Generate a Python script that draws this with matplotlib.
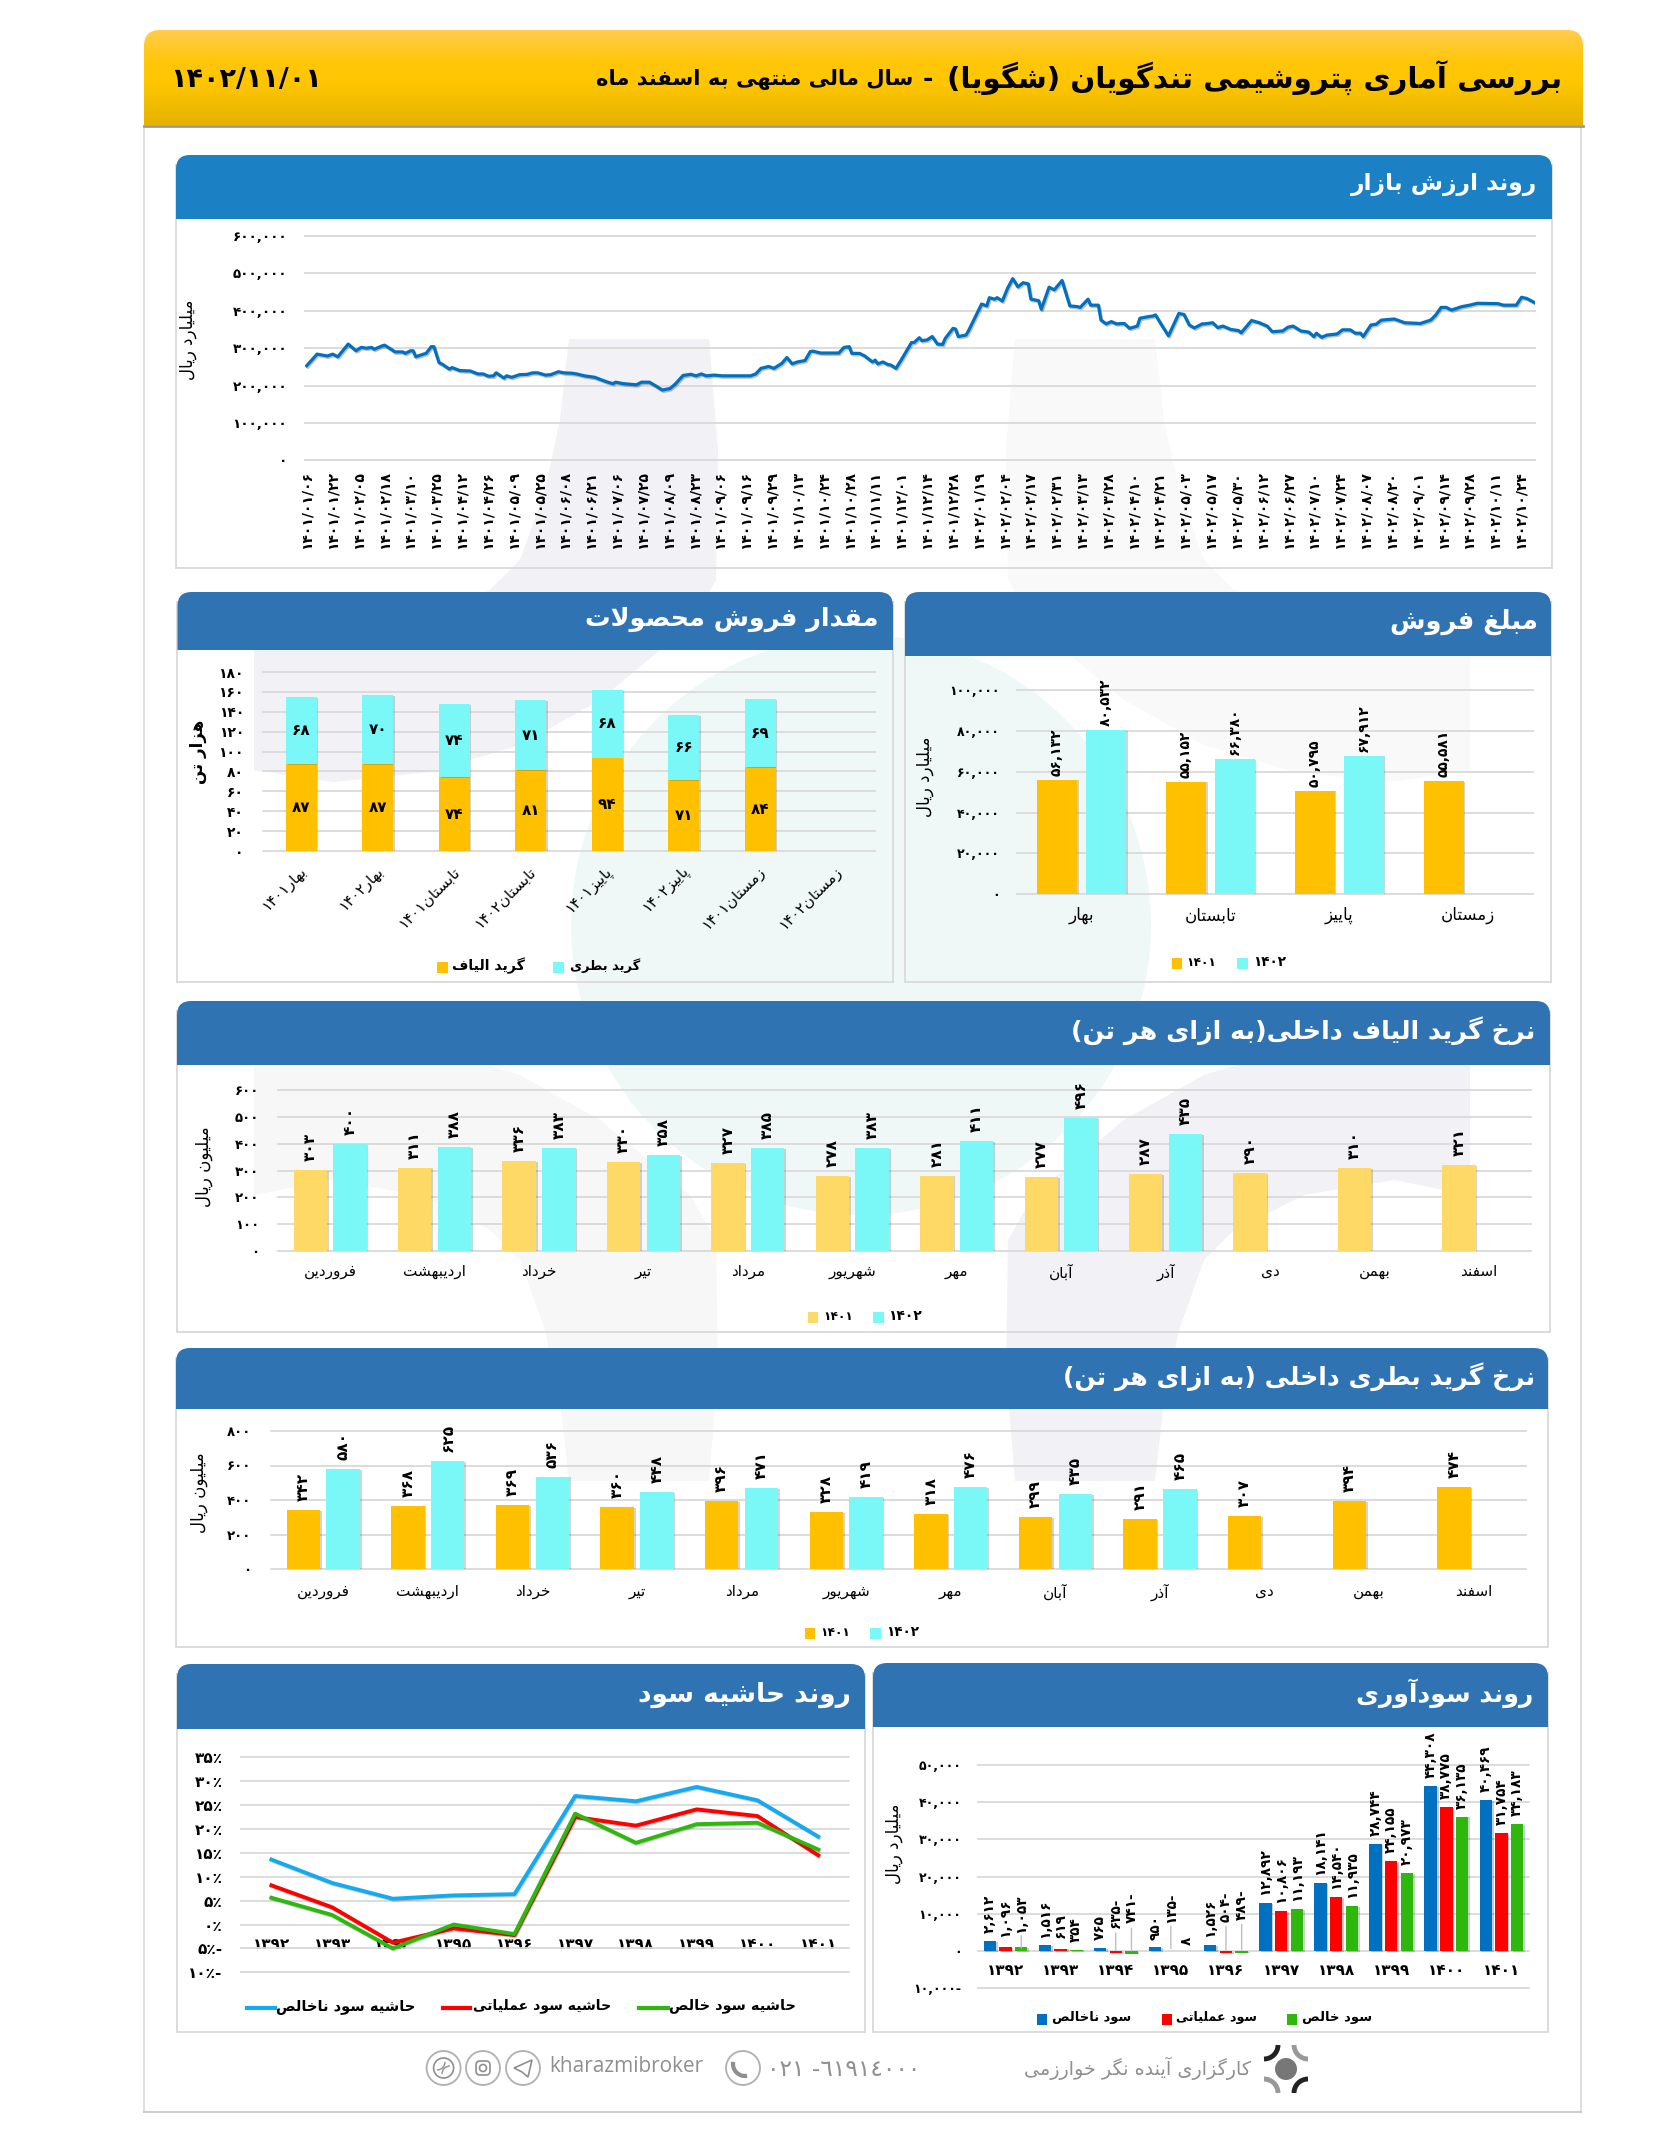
"""Statistical review sheet for Tondgooyan Petrochemical, redrawn with matplotlib."""

import re

import matplotlib

matplotlib.use("Agg")
import matplotlib.patheffects as pe
import matplotlib.pyplot as plt
import numpy as np
from matplotlib.lines import Line2D
from matplotlib.patches import Arc, Circle, FancyBboxPatch, PathPatch, Polygon, Rectangle
from matplotlib.path import Path

W, H = 1677, 2133
PT = 0.72  # points per pixel at dpi=100

plt.rcParams["font.family"] = ["DejaVu Sans"]

# ---------------------------------------------------------------- data
market_day = [
    0, 4, 8, 10, 12, 16, 19, 21, 23, 25, 26, 29, 30, 33, 34, 37, 38, 40, 41, 42, 45, 46, 48, 49, 51, 52, 55, 56,
    59, 63, 66, 68, 70, 72, 73, 76, 77, 79, 82, 85, 87, 89, 92, 94, 97, 99, 102, 104, 107, 111, 114, 116, 118,
    119, 122, 127, 129, 132, 134, 137, 140, 142, 145, 148, 150, 152, 154, 157, 160, 171, 173, 175, 178, 180,
    183, 185, 187, 189, 192, 194, 195, 198, 205, 207, 209, 210, 213, 215, 218, 219, 220, 222, 224, 225, 227,
    229, 233, 234, 236, 237, 239, 241, 243,
    245, 246, 249, 250, 251, 254, 255, 260, 262, 263, 265, 266, 268, 270, 272, 274, 276, 278, 279, 282, 283,
    286, 288, 291, 294, 297, 298, 301, 302, 305, 306, 308, 310, 312, 315, 317, 320, 321, 324, 326, 327, 329,
    332, 336, 338, 340, 342, 345, 346, 349, 351, 353, 356, 359, 360, 364, 367, 370, 372, 376, 378, 380, 383,
    386, 388, 389, 391, 393, 397, 399, 402, 404, 406, 407, 410, 412, 414, 419, 423, 429, 433, 435, 437, 439,
    441, 445, 448, 451, 459, 461, 466, 468, 470, 473,
]
market_value = [
    253, 284, 279, 284, 277, 311, 293, 302, 300, 302, 297, 306, 308, 295, 290, 290, 286, 293, 293, 277, 284,
    286, 304, 304, 261, 258, 244, 248, 240, 239, 231, 231, 225, 226, 234, 220, 226, 222, 229, 230, 234, 234,
    228, 229, 237, 234, 233, 231, 226, 222, 214, 209, 205, 209, 205, 202, 209, 209, 201, 188, 192, 204, 227,
    230, 226, 231, 226, 228, 226, 226, 231, 246, 251, 246, 259, 275, 258, 263, 267, 291, 292, 287, 287, 302,
    304, 286, 286, 279, 263, 268, 258, 263, 256, 255, 246, 268, 315, 315, 328, 320, 322, 331, 311,
    310, 326, 353, 351, 331, 335, 347, 418, 413, 435, 431, 435, 426, 460, 486, 464, 475, 472, 431, 427, 404,
    463, 456, 481, 413, 411, 409, 431, 415, 415, 375, 365, 371, 365, 366, 353, 359, 380, 384, 386, 389, 366,
    333, 393, 390, 362, 354, 365, 365, 368, 355, 359, 350, 347, 341, 374, 368, 359, 344, 346, 356, 359, 346,
    343, 331, 340, 329, 335, 338, 349, 349, 340, 340, 331, 362, 364, 375, 378, 368, 366, 375, 389, 409, 409,
    402, 411, 415, 420, 419, 415, 415, 436, 433, 422,
]
market_dates = [
    "1401/01/06", "1401/01/22", "1401/02/05", "1401/02/18", "1401/03/10", "1401/03/25", "1401/04/12",
    "1401/04/26", "1401/05/09", "1401/05/25", "1401/06/08", "1401/06/21", "1401/07/06", "1401/07/25",
    "1401/08/09", "1401/08/23", "1401/09/06", "1401/09/16", "1401/09/29", "1401/10/13", "1401/10/24",
    "1401/10/28", "1401/11/11", "1401/12/01", "1401/12/14", "1401/12/28", "1402/01/19", "1402/02/04",
    "1402/02/17", "1402/02/31", "1402/03/13", "1402/03/28", "1402/04/10", "1402/04/21", "1402/05/03",
    "1402/05/17", "1402/05/30", "1402/06/12", "1402/06/27", "1402/07/10", "1402/07/24", "1402/08/07",
    "1402/08/20", "1402/09/01", "1402/09/14", "1402/09/28", "1402/10/11", "1402/10/24",
]

seasons = ["بهار", "تابستان", "پاییز", "زمستان"]
sales_1401 = [56132, 55152, 50795, 55581]
sales_1402 = [80532, 66380, 67912, None]

volume_cats = ["بهار1401", "بهار1402", "تابستان1401", "تابستان1402", "پاییز1401", "پاییز1402", "زمستان1401", "زمستان1402"]
volume_fiber = [87, 87, 74, 81, 94, 71, 84, 0]
volume_bottle = [68, 70, 74, 71, 68, 66, 69, 0]

months = ["فروردین", "اردیبهشت", "خرداد", "تیر", "مرداد", "شهریور", "مهر", "آبان", "آذر", "دی", "بهمن", "اسفند"]
fiber_1401 = [303, 311, 336, 330, 327, 278, 281, 277, 287, 290, 310, 321]
fiber_1402 = [400, 388, 383, 358, 385, 383, 411, 496, 435, None, None, None]
bottle_1401 = [342, 368, 369, 360, 396, 328, 318, 299, 291, 307, 394, 474]
bottle_1402 = [580, 625, 536, 448, 471, 419, 476, 435, 465, None, None, None]

years = ["1392", "1393", "1394", "1395", "1396", "1397", "1398", "1399", "1400", "1401"]
margin_gross = [13.6, 8.7, 5.4, 6.1, 6.35, 26.9, 25.8, 28.8, 26.0, 18.4]
margin_operating = [8.2, 3.6, -3.8, -0.8, -2.2, 22.5, 20.7, 24.1, 22.7, 14.5]
margin_net = [5.6, 2.0, -5.0, 0.0, -2.0, 23.2, 17.1, 21.0, 21.3, 15.7]
profit_gross = [2612, 1516, 765, 950, 1526, 12892, 18141, 28744, 44308, 40469]
profit_operating = [1096, 619, -635, -135, -504, 10806, 14540, 24155, 38775, 31754]
profit_net = [1053, 354, -741, 8, -489, 11193, 11935, 20973, 36135, 34183]

ORANGE = "#ffc000"
PALE_ORANGE = "#ffd966"
CYAN = "#7af8f8"
GRID = "#d9d9d9"
HEADER = "#3073b3"

# raised labels of the small profit bars: (year index, series index) -> lift in px above zero
PROFIT_LIFT = {
    (0, 0): 18, (0, 1): 14, (0, 2): 18, (1, 0): 13, (1, 1): 13, (1, 2): 9, (2, 0): 11, (2, 1): 23, (2, 2): 28,
    (3, 0): 11, (3, 1): 28, (3, 2): 6, (4, 0): 14, (4, 1): 29, (4, 2): 31,
}
PROFIT_LEADER = {(0, 2), (2, 1), (2, 2), (3, 1), (4, 1), (4, 2)}

# ---------------------------------------------------------------- persian text helpers
RIGHT_JOIN = {"ا": 0xFE8D, "آ": 0xFE81, "د": 0xFEA9, "ذ": 0xFEAB, "ر": 0xFEAD, "ز": 0xFEAF, "ژ": 0xFB8A, "و": 0xFEED}
DUAL_JOIN = {
    "ب": 0xFE8F, "پ": 0xFB56, "ت": 0xFE95, "ث": 0xFE99, "ج": 0xFE9D, "چ": 0xFB7A, "ح": 0xFEA1, "خ": 0xFEA5,
    "س": 0xFEB1, "ش": 0xFEB5, "ص": 0xFEB9, "ض": 0xFEBD, "ط": 0xFEC1, "ظ": 0xFEC5, "ع": 0xFEC9, "غ": 0xFECD,
    "ف": 0xFED1, "ق": 0xFED5, "ک": 0xFB8E, "گ": 0xFB92, "ل": 0xFEDD, "م": 0xFEE1, "ن": 0xFEE5, "ه": 0xFEE9,
    "ی": 0xFBFC,
}
DIGITS = str.maketrans("0123456789", "۰۱۲۳۴۵۶۷۸۹")


def fa(text: str) -> str:
    """Shape Persian text into presentation forms and lay it out in visual order."""
    text = text.translate(DIGITS)
    shaped = []
    i = 0
    while i < len(text):
        char = text[i]
        prev = text[i - 1] if i else ""
        nxt = text[i + 1] if i + 1 < len(text) else ""
        if char == "ل" and nxt in ("ا", "آ"):
            base = 0xFEFB if nxt == "ا" else 0xFEF5
            shaped.append(chr(base + (prev in DUAL_JOIN)))
            i += 2
            continue
        if char in RIGHT_JOIN:
            shaped.append(chr(RIGHT_JOIN[char] + (prev in DUAL_JOIN)))
        elif char in DUAL_JOIN:
            joins_next = nxt in DUAL_JOIN or nxt in RIGHT_JOIN
            joins_prev = prev in DUAL_JOIN
            offset = 3 if joins_prev and joins_next else 2 if joins_next else 1 if joins_prev else 0
            shaped.append(chr(DUAL_JOIN[char] + offset))
        else:
            shaped.append({"(": ")", ")": "("}.get(char, char))
        i += 1
    visual = "".join(reversed(shaped))
    return re.sub(r"[۰-۹,/]+", lambda m: m.group()[::-1], visual)


def fa_num(value: float, suffix: str = "") -> str:
    body = f"{abs(value):,}".translate(DIGITS) + suffix
    return body + "-" if value < 0 else body


def top_round(x0, y0, x1, y1, r):
    codes = [Path.MOVETO, Path.LINETO, Path.CURVE3, Path.CURVE3, Path.LINETO, Path.CURVE3, Path.CURVE3, Path.LINETO, Path.CLOSEPOLY]
    verts = [(x0, y1), (x0, y0 + r), (x0, y0), (x0 + r, y0), (x1 - r, y0), (x1, y0), (x1, y0 + r), (x1, y1), (x0, y1)]
    return Path(verts, codes)


fig = plt.figure(figsize=(W / 100, H / 100), dpi=100, facecolor="white")
renderer = fig.canvas.get_renderer()

bg = fig.add_axes([0, 0, 1, 1], zorder=0)
bg.set_xlim(0, W)
bg.set_ylim(H, 0)
bg.axis("off")


def label(x, y, text, width=None, size=10, color="black", weight="bold", ha="right", **kwargs):
    """Place text on the page in px; width rescales the font to the measured width."""
    item = bg.text(x, y, text, fontsize=size, color=color, fontweight=weight, ha=ha, va="center", zorder=6, **kwargs)
    if width:
        item.set_fontsize(size * width / item.get_window_extent(renderer).width)
    return item


def axis_title(x, y, text, size=12):
    label(x, y, fa(text), size=size, rotation=90, ha="center", weight="normal")


def panel(x0, y0, x1, y_head, y1, title, title_x, title_width, color=HEADER):
    bg.add_patch(Rectangle((x0, y0 + 10), x1 - x0, y1 - y0 - 10, fill=False, ec=GRID, lw=1.3, zorder=2))
    bg.add_patch(PathPatch(top_round(x0, y0, x1, y_head, 14), fc=color, ec="none", zorder=3))
    label(title_x, (y0 + y_head) / 2 - 2, fa(title), width=title_width, size=20, color="white")


def chart(x0, y0, x1, y1, ylim, ticks, tick_labels, tick_right, tick_size=9.5):
    ax = fig.add_axes([x0 / W, 1 - y1 / H, (x1 - x0) / W, (y1 - y0) / H], zorder=2)
    ax.patch.set_alpha(0)
    ax.set_ylim(*ylim)
    for spine in ax.spines.values():
        spine.set_visible(False)
    ax.set_yticks(ticks, tick_labels, fontweight="bold", fontsize=tick_size)
    ax.tick_params(axis="both", length=0)
    ax.tick_params(axis="y", pad=(x0 - tick_right) * PT)
    ax.yaxis.grid(True, color=GRID, lw=1.3)
    ax.set_axisbelow(True)
    for line in ax.get_ygridlines():
        line.set_clip_on(False)
    return ax


def swatch_legend(entries, y, size=9):
    for sq0, sq1, color, text, text_x0, text_x1 in entries:
        bg.add_patch(Rectangle((sq0, y - 5), sq1 - sq0, 11, fc=color, ec="none", zorder=6))
        label(text_x1, y - 1, text, width=text_x1 - text_x0, size=size)


def bar_shadow():
    return [pe.SimplePatchShadow(offset=(1.2, -0.6), alpha=0.22), pe.Normal()]


def paired_bars(ax, cats, first, second, first_color, pad, size, width=0.32, offset=0.19):
    pos = np.arange(len(cats))
    ax.set_xlim(-0.5, len(cats) - 0.5)
    for values, color, shift in ((first, first_color, -offset), (second, CYAN, offset)):
        for x, value in zip(pos, values):
            if value is None:
                continue
            ax.bar(x + shift, value, width, color=color, path_effects=bar_shadow(), zorder=2)
            ax.annotate(fa_num(value), (x + shift, value), xytext=(0, pad * PT), textcoords="offset points",
                        rotation=90, ha="center", va="bottom", fontsize=size, fontweight="bold", zorder=4)


# ---------------------------------------------------------------- page background and logo watermark
ring = np.array([
    (569, 339), (709, 339), (718, 450), (716, 580), (690, 625), (660, 650), (600, 700), (520, 745), (430, 772),
    (333, 782), (254, 770), (254, 625), (330, 640), (420, 625), (490, 590), (520, 560), (545, 490), (560, 420),
])
bg.add_patch(Circle((861, 925), 290, fc="#f0f8f7", ec="none", zorder=0))
bg.add_patch(Polygon(ring, fc="#f1f1f6", ec="none", zorder=0))
bg.add_patch(Polygon(np.c_[1724 - ring[:, 0], ring[:, 1]], fc="#f9f9f9", ec="none", zorder=0))
bg.add_patch(Polygon(np.c_[ring[:, 0], 1820 - ring[:, 1]], fc="#f7f7f8", ec="none", zorder=0))
bg.add_patch(Polygon(np.c_[1724 - ring[:, 0], 1820 - ring[:, 1]], fc="#f1f1f6", ec="none", zorder=0))

bg.plot([144, 144], [126, 2112], color="#dcdcdc", lw=1.3, zorder=1)
bg.plot([1581, 1581], [126, 2112], color="#dcdcdc", lw=1.3, zorder=1)
bg.plot([144, 1581], [2112, 2112], color="#c8c8c8", lw=1.3, zorder=1)

# title band
band = PathPatch(top_round(144, 30, 1583, 125, 16), fc="none", ec="none")
bg.add_patch(band)
bg.plot([144, 1583], [126, 126], color="#9a9a9a", lw=2, zorder=3)
stops = np.array([[1.0, 0.80, 0.30], [1.0, 0.78, 0.05], [1.0, 0.78, 0.0], [0.90, 0.70, 0.0]])
ramp = np.stack([np.interp(np.linspace(0, 1, 96), [0, 0.3, 0.55, 1], stops[:, k]) for k in range(3)], axis=1)
image = bg.imshow(ramp[:, None, :], extent=(144, 1583, 125, 30), aspect="auto", zorder=3)
image.set_clip_path(band)
bg.set_xlim(0, W)
bg.set_ylim(H, 0)
label(1562, 78, fa("بررسی آماری پتروشیمی تندگویان (شگویا)"), width=614, size=22)
label(913, 80, fa("سال مالی منتهی به اسفند ماه"), width=319, size=15)
label(933, 79, "-", size=18)
label(170, 80, fa("1402/11/01"), width=151, size=20, ha="left")

# ---------------------------------------------------------------- market value
panel(176, 155, 1552, 219, 568, "روند ارزش بازار", 1537, 186, color="#1b80c4")
ax = chart(305, 236, 1535, 460.3, (0, 600), np.arange(0, 601, 100),
           [fa_num(v * 1000) for v in range(0, 601, 100)], 287, tick_size=9.7)
ax.set_xlim(-0.65, 473.2)
ax.plot(market_day, market_value, color="#0070c0", lw=2.3, solid_joinstyle="round",
        path_effects=[pe.SimpleLineShadow(offset=(0.8, -1), alpha=0.25), pe.Normal()])
ax.set_xticks(np.arange(len(market_dates)) * 9.95, [fa(d) for d in market_dates], rotation=90, fontsize=10, fontweight="bold")
ax.tick_params(axis="x", pad=11 * PT)
axis_title(188, 340, "میلیارد ریال")

# ---------------------------------------------------------------- sales amount
panel(905, 592, 1551, 656, 982, "مبلغ فروش", 1538, 148)
ax = chart(1017, 690, 1532.6, 894.3, (0, 100000), np.arange(0, 100001, 20000),
           [fa_num(v) for v in range(0, 100001, 20000)], 1000, tick_size=9)
paired_bars(ax, seasons, sales_1401, sales_1402, ORANGE, 4, 10, width=0.31, offset=0.19)
ax.set_xticks(range(4), [fa(s) for s in seasons], fontsize=12)
ax.tick_params(axis="x", pad=12 * PT)
axis_title(925, 777, "میلیارد ریال")
swatch_legend([(1172, 1182, ORANGE, fa("1401"), 1186, 1216), (1237, 1248, CYAN, fa("1402"), 1253, 1286)], 963)

# ---------------------------------------------------------------- sales volume
panel(177.5, 592, 893, 650, 982, "مقدار فروش محصولات", 879, 293)
ax = chart(263, 672, 875, 851, (0, 180), np.arange(0, 181, 20), [fa_num(v) for v in range(0, 181, 20)], 244, tick_size=10)
pos = np.arange(len(volume_cats))
ax.set_xlim(-0.5, len(pos) - 0.5)
bottle_bottom = np.array(volume_fiber)
ax.bar(pos, volume_fiber, 0.40, color=ORANGE, path_effects=bar_shadow(), zorder=2)
ax.bar(pos, volume_bottle, 0.40, bottom=bottle_bottom, color=CYAN, path_effects=bar_shadow(), zorder=2)
for x, fiber, bottle in zip(pos, volume_fiber, volume_bottle):
    if fiber:
        ax.text(x, fiber / 2, fa_num(fiber), ha="center", va="center", fontsize=11, fontweight="bold", zorder=4)
        ax.text(x, fiber + bottle / 2, fa_num(bottle), ha="center", va="center", fontsize=11, fontweight="bold", zorder=4)
ax.set_xticks(pos - 0.03, [fa(c) for c in volume_cats], rotation=45, ha="right", va="top", rotation_mode="anchor", fontsize=11)
ax.tick_params(axis="x", pad=12 * PT)
label(198, 752, fa("هزار تن"), size=12, rotation=90, ha="center")
swatch_legend([(553, 564, CYAN, fa("گرید بطری"), 570, 640), (437, 448, ORANGE, fa("گرید الیاف"), 452, 525)], 967)

# ---------------------------------------------------------------- fibre grade rate
panel(177, 1001, 1550, 1065, 1332, "نرخ گرید الیاف داخلی(به ازای هر تن)", 1535, 463)
ax = chart(278, 1090, 1531, 1251, (0, 600), np.arange(0, 601, 100), [fa_num(v) for v in range(0, 601, 100)], 259)
paired_bars(ax, months, fiber_1401, fiber_1402, PALE_ORANGE, 9, 11)
ax.set_xticks(range(12), [fa(m) for m in months], fontsize=11)
ax.tick_params(axis="x", pad=13 * PT)
axis_title(204, 1167, "میلیون ریال")
swatch_legend([(808, 818, PALE_ORANGE, fa("1401"), 823, 853), (873, 884, CYAN, fa("1402"), 888, 922)], 1317)

# ---------------------------------------------------------------- bottle grade rate
panel(176, 1348, 1548, 1409, 1647, "نرخ گرید بطری داخلی (به ازای هر تن)", 1535, 471)
ax = chart(271, 1431, 1526, 1569, (0, 800), np.arange(0, 801, 200), [fa_num(v) for v in range(0, 801, 200)], 251.5)
paired_bars(ax, months, bottle_1401, bottle_1402, ORANGE, 9, 11)
ax.set_xticks(range(12), [fa(m) for m in months], fontsize=11)
ax.tick_params(axis="x", pad=15 * PT)
axis_title(199, 1493, "میلیون ریال")
swatch_legend([(805, 815, ORANGE, fa("1401"), 820, 850), (870, 881, CYAN, fa("1402"), 886, 919)], 1633)

# ---------------------------------------------------------------- profit margin
panel(177, 1664, 865, 1729, 2032, "روند حاشیه سود", 851, 213)
ax = chart(241, 1757.3, 848.6, 1972.3, (-10, 35), np.arange(-10, 36, 5),
           [fa_num(v, "٪") for v in range(-10, 36, 5)], 222.7, tick_size=11)
ax.set_xlim(-0.5, 9.5)
for series, color in ((margin_gross, "#14aaf0"), (margin_operating, "#ff0000"), (margin_net, "#2eb80e")):
    ax.plot(years, series, color=color, lw=2.8, path_effects=[pe.SimpleLineShadow(offset=(0.6, -0.8), alpha=0.2), pe.Normal()])
ax.set_xticks(range(10), [fa(y) for y in years], fontsize=11, fontweight="bold")
ax.tick_params(axis="x", pad=-35 * PT)
for x0, x1, color, text, text_x0, text_x1 in (
    (247, 275, "#14aaf0", "حاشیه سود ناخالص", 276, 415),
    (443, 470, "#ff0000", "حاشیه سود عملیاتی", 473, 611),
    (639, 668, "#2eb80e", "حاشیه سود خالص", 669, 796),
):
    bg.add_line(Line2D([x0, x1], [2008, 2008], color=color, lw=3, zorder=6))
    label(text_x1, 2006, fa(text), width=text_x1 - text_x0, size=10)

# ---------------------------------------------------------------- profitability
panel(873, 1663, 1548, 1727, 2032, "روند سودآوری", 1533, 177)
ax = chart(978, 1765, 1529, 1988, (-10000, 50000), np.arange(-10000, 50001, 10000),
           [fa_num(v) for v in range(-10000, 50001, 10000)], 961.5, tick_size=9)
ax.set_xlim(-0.5, 9.5)
profit_series = ((profit_gross, "#0070c0"), (profit_operating, "#ff0000"), (profit_net, "#2eb80e"))
for k, (series, color) in enumerate(profit_series):
    shift = (k - 1) * 0.285
    for i, value in enumerate(series):
        ax.bar(i + shift, value, 0.225, color=color, path_effects=bar_shadow(), zorder=2)
        lift = PROFIT_LIFT.get((i, k))
        if lift is None:
            ax.annotate(fa_num(value), (i + shift, value), xytext=(0, 8 * PT), textcoords="offset points", rotation=90,
                        ha="center", va="bottom", fontsize=9.8, fontweight="bold", zorder=4)
            continue
        ax.annotate(fa_num(value), (i + shift, 0), xytext=(0, lift * PT), textcoords="offset points", rotation=90,
                    ha="center", va="bottom", fontsize=9.8, fontweight="bold", zorder=4)
        if (i, k) in PROFIT_LEADER:
            ax.annotate("", (i + shift, min(value, 0)), xytext=(0, lift * PT), textcoords="offset points",
                        arrowprops=dict(arrowstyle="-", color="#bfbfbf", lw=1), zorder=3)
ax.set_xticks(range(10), [fa(y) for y in years], fontsize=11, fontweight="bold")
ax.tick_params(axis="x", pad=-25 * PT)
axis_title(894.5, 1844, "میلیارد ریال")
swatch_legend([
    (1037, 1047, "#0070c0", fa("سود ناخالص"), 1052, 1131),
    (1162, 1172, "#ff0000", fa("سود عملیاتی"), 1176, 1257),
    (1287, 1297, "#2eb80e", fa("سود خالص"), 1302, 1372),
], 2019)

# ---------------------------------------------------------------- footer
FOOT = "#8f8f8f"
cx, cy = 1286, 2069
bg.add_patch(Circle((cx, cy), 11, fc="#777777", ec="none", zorder=6))
for dx, dy, start, tone in ((-22, -24, 0, "#222222"), (22, -24, 90, "#999999"), (22, 24, 180, "#222222"), (-22, 24, 270, "#999999")):
    bg.add_patch(Arc((cx + dx, cy + dy), 28, 28, theta1=start, theta2=start + 90, color=tone, lw=3.5, zorder=6))
label(1251, 2068, fa("کارگزاری آینده نگر خوارزمی"), width=227, size=12, color=FOOT, weight="normal")
label(920, 2069, "٠٢١ -٦١٩١٤٠٠٠", width=153, size=12, color=FOOT, weight="normal")
label(703, 2067, "kharazmibroker", width=155, size=14, color=FOOT, weight="normal", family="Open Sans")
for icon_x in (443.6, 483, 523, 743):
    bg.add_patch(Circle((icon_x, 2068), 17, fc="none", ec="#b0b0b0", lw=1.3, zorder=6))
bg.add_patch(Circle((443.6, 2068), 10, fc="none", ec=FOOT, lw=1.2, zorder=6))
bg.add_patch(Arc((437, 2062), 16, 16, theta1=0, theta2=90, color=FOOT, lw=1, zorder=6))
bg.add_patch(Arc((450, 2074), 16, 16, theta1=180, theta2=270, color=FOOT, lw=1, zorder=6))
bg.add_patch(FancyBboxPatch((476, 2061), 14, 14, boxstyle="round,pad=0,rounding_size=4", fc="none", ec=FOOT, lw=1.2, zorder=6))
bg.add_patch(Circle((483, 2068), 3.5, fc="none", ec=FOOT, lw=1.2, zorder=6))
bg.add_patch(Polygon([(514, 2068), (532, 2060), (528, 2077), (522, 2072)], fc="none", ec=FOOT, lw=1.2, zorder=6))
bg.add_patch(Arc((745, 2064), 24, 24, theta1=80, theta2=190, color=FOOT, lw=3, zorder=6))

fig.savefig("out.png", dpi=100)
